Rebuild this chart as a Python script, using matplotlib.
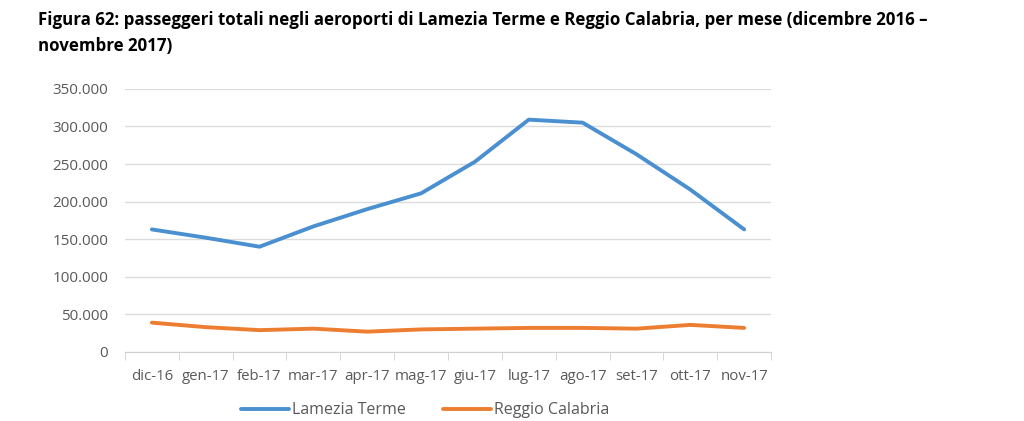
import numpy as np
import matplotlib.pyplot as plt
from matplotlib.ticker import FuncFormatter, FixedLocator

mesi = ["dic-16", "gen-17", "feb-17", "mar-17", "apr-17", "mag-17",
        "giu-17", "lug-17", "ago-17", "set-17", "ott-17", "nov-17"]
lamezia = [163000, 152000, 140000, 167000, 190000, 211000,
           253000, 309000, 305000, 263000, 216000, 163000]
reggio = [39000, 33000, 29000, 31000, 27000, 30000,
          31000, 32000, 32000, 31000, 36000, 32000]

plt.rcParams['font.family'] = ['Open Sans', 'DejaVu Sans']

fig = plt.figure(figsize=(10.24, 4.21), dpi=100)
ax = fig.add_axes([0.122, 0.164, 0.631, 0.625])

x = np.arange(len(mesi))
ax.plot(x, lamezia, color='#4a90d0', lw=2.8, label='Lamezia Terme', solid_capstyle='round')
ax.plot(x, reggio, color='#ed7d31', lw=2.8, label='Reggio Calabria', solid_capstyle='round')

ax.set_xlim(-0.5, len(mesi) - 0.5)
ax.set_ylim(0, 350000)
ax.set_yticks(np.arange(0, 350001, 50000))
ax.yaxis.set_major_formatter(FuncFormatter(lambda v, p: '0' if v == 0 else f'{int(v):,}'.replace(',', '.')))
ax.set_xticks(x)
ax.set_xticklabels(mesi)
ax.xaxis.set_minor_locator(FixedLocator(np.arange(-0.5, len(mesi), 1)))
ax.tick_params(axis='x', which='major', length=0, pad=12, labelsize=10.8, colors='#595959')
ax.tick_params(axis='x', which='minor', length=6, color='#d0d0d0')
ax.tick_params(axis='y', length=0, pad=12, labelsize=11, colors='#595959')

ax.grid(axis='y', color='#dcdcdc', lw=1)
ax.set_axisbelow(True)
for s in ['top', 'right', 'left']:
    ax.spines[s].set_visible(False)
ax.spines['bottom'].set_color('#d0d0d0')

fig.text(0.037, 0.952, "Figura 62: passeggeri totali negli aeroporti di Lamezia Terme e Reggio Calabria, per mese (dicembre 2016 \u2013",
         fontsize=12.2, fontweight='bold', va='center')
fig.text(0.037, 0.890, "novembre 2017)", fontsize=12.2, fontweight='bold', va='center')

fig.legend(loc='center', bbox_to_anchor=(0.415, 0.025), ncol=2, frameon=False,
           fontsize=11.5, handlelength=3.0, columnspacing=2.3, handletextpad=0.2,
           labelcolor='#595959')

fig.savefig('out.png', dpi=100)
